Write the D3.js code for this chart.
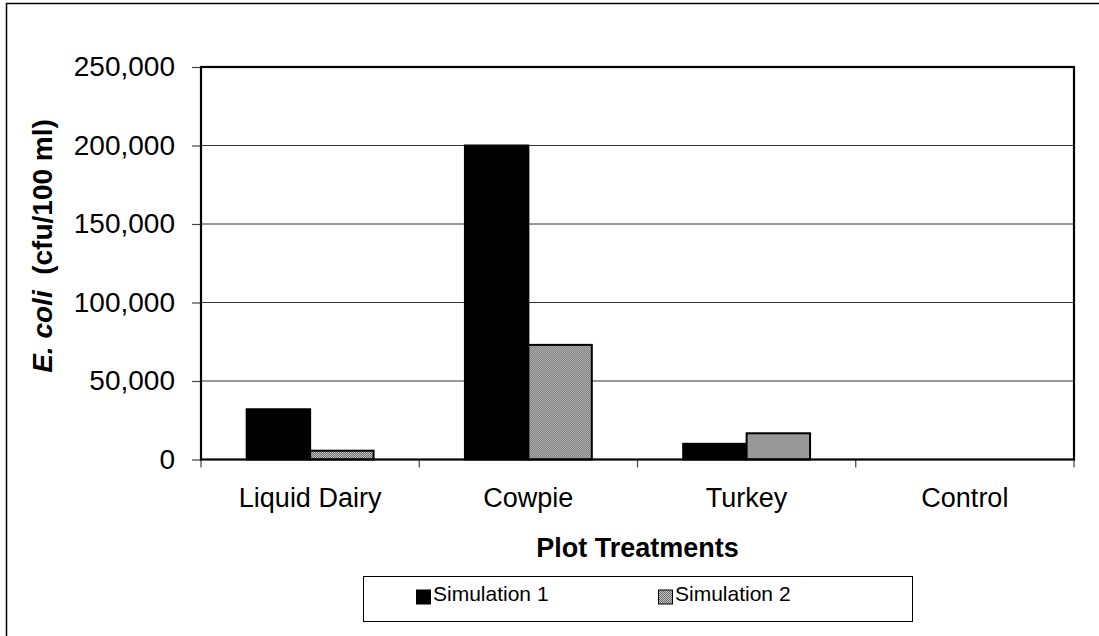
<!DOCTYPE html>
<html>
<head>
<meta charset="utf-8">
<script src="https://cdn.jsdelivr.net/npm/d3@7"></script>
<style>
  html, body { margin: 0; padding: 0; background: #fff; }
  svg { display: block; font-family: "Liberation Sans", Arial, sans-serif; }
</style>
</head>
<body>
<svg id="chart" width="1099" height="636"></svg>
<script>
// Plot treatments and E. coli counts (cfu/100 ml) per simulation
const categories = ["Liquid Dairy", "Cowpie", "Turkey", "Control"];
const seriesNames = ["Simulation 1", "Simulation 2"];
const simulation1 = [32000, 200000, 10000, 0];
const simulation2 = [5600, 73000, 16700, 0];
const yTicks = [0, 50000, 100000, 150000, 200000, 250000];

const svg = d3.select("#chart");
const W = 1099, H = 636;

const plot = { left: 201, right: 1074, top: 67, bottom: 459.5 };

// gray dither fill for the second series
const defs = svg.append("defs");
const pat = defs.append("pattern")
  .attr("id", "dither")
  .attr("patternUnits", "userSpaceOnUse")
  .attr("width", 2).attr("height", 2);
pat.append("rect").attr("width", 2).attr("height", 2).attr("fill", "#c4c4c4");
pat.append("rect").attr("x", 0).attr("y", 0).attr("width", 1).attr("height", 1).attr("fill", "#6c6c6c");
pat.append("rect").attr("x", 1).attr("y", 1).attr("width", 1).attr("height", 1).attr("fill", "#6c6c6c");

const fills = { "Simulation 1": "#000", "Simulation 2": "url(#dither)" };

// outer chart frame
svg.append("rect")
  .attr("x", 6.5).attr("y", 3.5)
  .attr("width", W + 20).attr("height", H + 20)
  .attr("fill", "#fff").attr("stroke", "#000").attr("stroke-width", 1.5);

const x0 = d3.scaleBand().domain(categories).range([plot.left, plot.right]).paddingInner(0).paddingOuter(0);
const x1 = d3.scaleBand().domain(seriesNames).range([0, x0.bandwidth()]).paddingInner(0).paddingOuter(0.72);
const y = d3.scaleLinear().domain([0, 250000]).range([plot.bottom, plot.top]);

// horizontal gridlines
svg.append("g")
  .selectAll("line")
  .data(yTicks.filter(d => d > 0 && d < 250000))
  .join("line")
  .attr("x1", plot.left).attr("x2", plot.right)
  .attr("y1", d => y(d)).attr("y2", d => y(d))
  .attr("stroke", "#333").attr("stroke-width", 1);

// bars
const rows = categories.map((c, i) => ({
  cat: c,
  vals: [
    { s: "Simulation 1", v: simulation1[i] },
    { s: "Simulation 2", v: simulation2[i] }
  ]
}));

const groups = svg.append("g").selectAll("g")
  .data(rows)
  .join("g")
  .attr("transform", d => `translate(${x0(d.cat)},0)`);

groups.selectAll("rect")
  .data(d => d.vals.filter(e => e.v > 0))
  .join("rect")
  .attr("x", d => x1(d.s))
  .attr("y", d => y(d.v))
  .attr("width", x1.bandwidth())
  .attr("height", d => y(0) - y(d.v))
  .attr("fill", d => fills[d.s])
  .attr("stroke", "#000")
  .attr("stroke-width", 2);

// y axis
const yAxis = d3.axisLeft(y)
  .tickValues(yTicks)
  .tickSize(9)
  .tickPadding(17)
  .tickFormat(d3.format(","));
const gy = svg.append("g")
  .attr("transform", `translate(${plot.left},0)`)
  .call(yAxis);
gy.select(".domain").remove();
gy.selectAll(".tick line").attr("stroke", "#444").attr("stroke-width", 1.2);
gy.selectAll(".tick text")
  .attr("font-size", 28)
  .attr("fill", "#000")
  .attr("font-family", "Liberation Sans, Arial, sans-serif");

// x axis with ticks at category boundaries
const boundaries = categories.map(c => x0(c)).concat([plot.right]);
svg.append("g")
  .selectAll("line")
  .data(boundaries)
  .join("line")
  .attr("x1", d => d).attr("x2", d => d)
  .attr("y1", plot.bottom).attr("y2", plot.bottom + 8)
  .attr("stroke", "#444").attr("stroke-width", 1.2);

svg.append("g")
  .selectAll("text")
  .data(categories)
  .join("text")
  .attr("x", d => x0(d) + x0.bandwidth() / 2)
  .attr("y", 506.5)
  .attr("text-anchor", "middle")
  .attr("font-size", 27)
  .attr("fill", "#000")
  .text(d => d);

// plot area frame
svg.append("rect")
  .attr("x", plot.left).attr("y", plot.top)
  .attr("width", plot.right - plot.left).attr("height", plot.bottom - plot.top)
  .attr("fill", "none").attr("stroke", "#000").attr("stroke-width", 2.2);

// axis titles
svg.append("text")
  .attr("x", (plot.left + plot.right) / 2)
  .attr("y", 557)
  .attr("text-anchor", "middle")
  .attr("font-size", 27)
  .attr("font-weight", "bold")
  .text("Plot Treatments");

const yt = svg.append("text")
  .attr("transform", `translate(52,246) rotate(-90)`)
  .attr("text-anchor", "middle")
  .attr("font-size", 28)
  .attr("font-weight", "bold")
  .style("white-space", "pre");
yt.append("tspan").attr("font-style", "italic").text("E. coli");
yt.append("tspan").text("  (cfu/100 ml)");

// legend
const lg = svg.append("g");
lg.append("rect")
  .attr("x", 363.5).attr("y", 576.5)
  .attr("width", 549).attr("height", 45)
  .attr("fill", "#fff").attr("stroke", "#000").attr("stroke-width", 1);

const legendX = d3.scaleOrdinal().domain(seriesNames).range([416, 658]);
const items = lg.selectAll("g.item")
  .data(seriesNames)
  .join("g")
  .attr("class", "item")
  .attr("transform", d => `translate(${legendX(d)},0)`);
items.append("rect")
  .attr("x", 0.5).attr("y", 590)
  .attr("width", 14).attr("height", 14)
  .attr("fill", d => fills[d])
  .attr("stroke", "#000").attr("stroke-width", 1);
items.append("text")
  .attr("x", 17).attr("y", 601)
  .attr("font-size", 21)
  .attr("fill", "#000")
  .text(d => d);
</script>
</body>
</html>
